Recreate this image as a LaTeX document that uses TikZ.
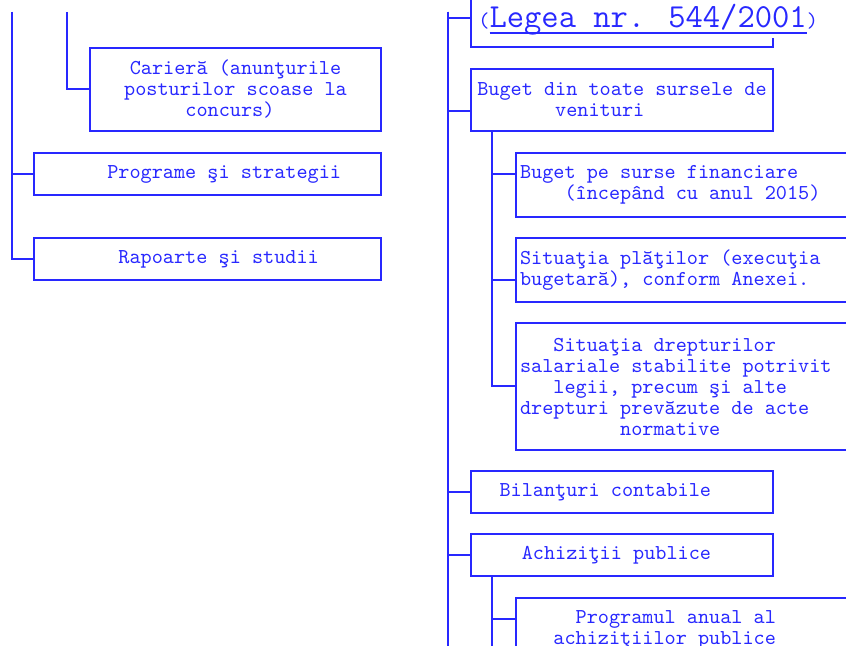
\documentclass[tikz,border=0pt]{standalone}
\usepackage{fontspec}
\usetikzlibrary{positioning,calc}
\definecolor{lawblue}{RGB}{40,40,255}
\newcommand{\chpad}[1]{\hspace*{#1\dimexpr0.525em\relax}}
\newcommand{\ulined}[1]{\setbox0\hbox{#1}\rlap{\rule[-2.9pt]{\wd0}{0.8pt}}\box0}
\newcommand{\lawfont}{\fontsize{16.8}{18}\selectfont}
\tikzset{
  tbox/.style={draw=lawblue, line width=1pt, text=lawblue, inner xsep=2pt, inner ysep=0pt, align=center},
  lbox/.style={tbox, align=left, text width=168pt, execute at begin node={\spaceskip=0.525em\xspaceskip=0.525em\relax}},
  link/.style={draw=lawblue, line width=1pt},
}
\begin{document}
\begin{tikzpicture}[x=0.5pt, y=-0.5pt, font=\fontsize{10.6}{10.5}\selectfont\ttfamily]
	\useasboundingbox (0,0) rectangle (846,646);
	\clip (0,0) rectangle (846,646);

	% 1. left column
	\coordinate (stemL) at (12,12);
	\coordinate (stemM) at (67,12);
	\node[tbox, minimum width=145.5pt, minimum height=41.5pt] (cariera) at (235.5,89.5) {Carieră (anunţurile\\posturilor scoase la\chpad{1}\\concurs)\chpad{1}};
	\node[tbox, minimum width=173.5pt, minimum height=21pt] (programe) at (207.5,174) {\chpad{3}Programe şi strategii};
	\node[tbox, minimum width=173.5pt, minimum height=21pt] (rapoarte) at (207.5,259) {\chpad{2}Rapoarte şi studii};
	\draw[link] (stemM) |- (cariera.west);
	\draw[link] (stemL) |- (programe.west);
	\draw[link] (stemL) |- (rapoarte.west);

	% 2. right column, first level
	\coordinate (trunk) at (448,12);
	\coordinate (trunkend) at (448,650);
	\node[minimum width=151pt, minimum height=29pt, inner sep=0pt] (legea) at (622,18) {};
	\draw[link] (legea.north west) |- (legea.south east) -- ++(0,-9);
	\node[text=lawblue, anchor=base west, inner sep=0pt] (legeat) at (478,28) {({\lawfont\ulined{Legea nr. 544/2001}})};
	\node[tbox, minimum width=151pt, minimum height=31pt] (buget) at (622,100) {Buget din toate sursele de\\venituri\chpad{4}};
	\node[tbox, minimum width=151pt, minimum height=21pt] (bilant) at (622,492) {Bilanţuri contabile\chpad{3}};
	\node[tbox, minimum width=151pt, minimum height=21pt] (achizitii) at (622,555) {Achiziţii publice\chpad{1}};
	\draw[link] (trunk) -- (trunkend);
	\draw[link] (trunk) |- (legea.west);
	\draw[link] (trunk) |- ($(buget.west)+(0,11)$);
	\draw[link] (trunk) |- (bilant.west);
	\draw[link] (trunk) |- (achizitii.west);

	% 3. right column, second level
	\node[lbox, minimum height=32pt] (surse) at (688,185) {Buget pe surse financiare\\\chpad{4}(începând cu anul 2015)};
	\node[lbox, minimum height=32pt] (plati) at (688,270) {Situaţia plăţilor (execuţia\\bugetară), conform Anexei.};
	\node[lbox, minimum height=63.5pt] (drepturi) at (688,386.5) {\chpad{3}Situaţia drepturilor\\salariale stabilite potrivit\\\chpad{3}legii, precum şi alte\\drepturi prevăzute de acte\\\chpad{9}normative};
	\node[lbox, minimum height=32pt] (anual) at (688,630) {\chpad{5}Programul anual al\\\chpad{3}achiziţiilor publice};
	\coordinate (stemA) at ($(buget.south west)+(22,0)$);
	\coordinate (stemB) at ($(achizitii.south west)+(22,0)$);
	\draw[link] (stemA) |- ($(surse.west)+(0,-11)$);
	\draw[link] (stemA) |- ($(plati.west)+(0,10)$);
	\draw[link] (stemA) |- (drepturi.west);
	\draw[link] (stemB) -- (stemB |- trunkend);
	\draw[link] (stemB) |- ($(anual.west)+(0,-11)$);
\end{tikzpicture}
\end{document}
